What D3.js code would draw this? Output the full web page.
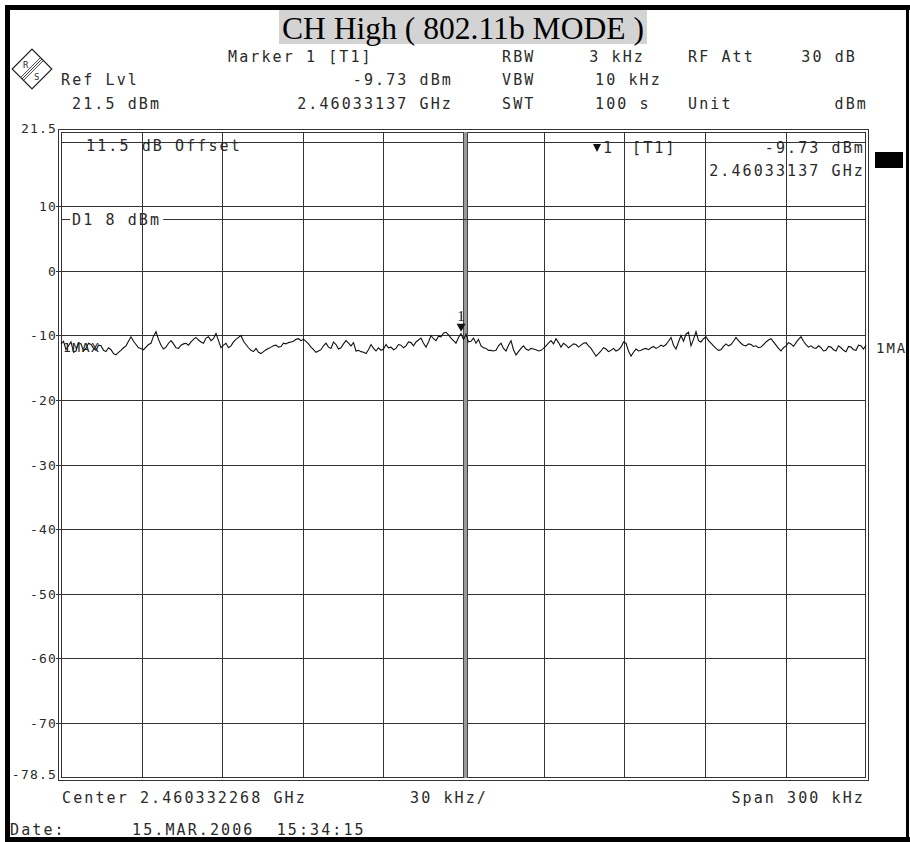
<!DOCTYPE html>
<html><head><meta charset="utf-8">
<script src="https://cdn.jsdelivr.net/npm/d3@7"></script>
<style>body{margin:0;background:#fff}svg{display:block}</style>
</head><body><svg id="c" width="910" height="842"></svg>
<script>
// ---------- data ----------
const chartTitle = "CH High ( 802.11b MODE )";
const yLevelRange = [21.5, -78.5];           // dBm, top / bottom
const yGridLevels = [20, 10, 0, -10, -20, -30, -40, -50, -60, -70];
const yTickLabels = ["10", "0", "-10", "-20", "-30", "-40", "-50", "-60", "-70"];
const yEdgeLabels = ["21.5", "-78.5"];
const spanKHz = [-150, 150];                  // offset from centre
const freqDivisions = [-120, -90, -60, -30, 0, 30, 60, 90, 120];
const displayLineLevel = 8;                   // D1
const markerFreqOffsetKHz = -0.898;           // 2.46033137 GHz vs centre
const markerLevel = -9.73;
// max-hold trace, dBm, equally spaced sweep points across the span
const traceLevels = [
 -11.3,-10.9,-12.2,-11.6,-11.0,-12.6,-12.4,-11.1,-11.3,-12.4,-12.0,-11.2,-11.4,-12.0,-12.3,-11.5,
 -11.6,-12.3,-12.5,-11.9,-12.2,-12.8,-13.0,-12.6,-12.3,-11.9,-11.6,-10.9,-10.2,-10.9,-11.4,-11.9,
 -12.0,-12.2,-11.8,-11.4,-11.2,-10.1,-9.4,-10.6,-11.5,-12.1,-11.8,-11.2,-10.8,-11.3,-11.9,-12.0,
 -11.5,-11.3,-11.2,-11.5,-11.0,-10.6,-10.3,-10.7,-11.0,-11.2,-10.4,-10.2,-10.8,-10.5,-9.7,-10.8,
 -11.9,-11.5,-11.2,-11.9,-11.6,-11.0,-10.6,-10.3,-10.0,-10.9,-11.4,-11.9,-12.3,-12.5,-12.0,-12.6,
 -12.8,-12.5,-12.2,-12.0,-11.8,-11.6,-11.5,-11.8,-11.7,-11.2,-11.3,-11.1,-11.0,-10.9,-10.6,-10.5,
 -10.8,-10.6,-10.9,-11.3,-11.8,-12.2,-12.6,-12.4,-12.2,-11.6,-11.2,-11.8,-12.0,-11.0,-11.4,-12.1,
 -11.9,-11.3,-10.8,-11.2,-11.6,-11.1,-12.4,-12.3,-12.5,-12.6,-12.8,-12.2,-11.4,-12.0,-12.4,-11.9,
 -12.3,-12.1,-11.4,-11.9,-11.8,-12.2,-12.0,-11.4,-11.5,-11.9,-11.6,-11.0,-11.1,-11.6,-11.0,-10.7,
 -10.4,-11.2,-11.8,-11.0,-10.0,-10.5,-10.8,-10.1,-10.2,-9.6,-9.5,-9.9,-10.4,-10.8,-11.2,-10.3,
 -9.73,-10.6,-9.8,-11.0,-10.9,-10.4,-11.2,-10.6,-11.6,-11.9,-12.0,-12.3,-12.3,-12.4,-12.3,-11.6,
 -11.2,-12.0,-12.4,-11.5,-10.8,-12.2,-13.0,-12.5,-12.0,-11.6,-12.1,-12.3,-12.0,-12.1,-12.2,-12.4,
 -12.3,-12.0,-11.6,-11.2,-10.8,-11.3,-10.5,-11.1,-11.8,-11.2,-11.5,-11.9,-11.6,-11.3,-11.4,-11.8,
 -11.5,-11.2,-11.1,-11.6,-12.0,-12.6,-13.2,-12.8,-12.4,-11.9,-12.1,-12.5,-12.3,-12.0,-12.4,-12.2,
 -11.8,-11.0,-11.2,-12.4,-13.2,-12.6,-12.1,-12.4,-12.3,-12.1,-12.0,-12.2,-11.9,-11.7,-12.0,-11.8,
 -11.5,-11.7,-11.4,-10.9,-10.3,-11.5,-12.1,-11.0,-10.0,-10.9,-9.8,-9.5,-11.6,-10.6,-9.4,-10.8,
 -11.0,-10.5,-10.2,-10.8,-11.2,-11.6,-12.0,-12.3,-12.2,-11.7,-11.3,-11.6,-11.4,-10.9,-10.3,-10.8,
 -11.2,-11.5,-11.6,-11.3,-11.4,-11.7,-11.6,-11.9,-11.8,-11.4,-11.0,-10.7,-10.5,-11.0,-11.5,-12.0,
 -12.4,-11.9,-11.6,-11.1,-11.3,-11.7,-11.1,-10.6,-10.2,-10.9,-11.4,-11.8,-11.6,-11.9,-12.0,-11.6,
 -11.9,-12.4,-12.3,-11.7,-11.8,-12.2,-12.4,-11.6,-11.9,-12.3,-12.5,-11.7,-11.8,-12.2,-12.3,-11.5,
 -11.6,-12.1,-11.5
];
const headerRow1 = ["Marker 1 [T1]", "RBW", "3 kHz", "RF Att", "30 dB"];
const headerRow2 = ["Ref Lvl", "-9.73 dBm", "VBW", "10 kHz"];
const headerRow3 = ["21.5 dBm", "2.46033137 GHz", "SWT", "100 s", "Unit", "dBm"];
const markerBox = ["1", "[T1]", "-9.73 dBm", "2.46033137 GHz"];
const offsetNote = "11.5 dB Offset";
const displayLineLabel = "D1 8 dBm";
const traceLabelLeft = "1MAX";
const traceLabelRight = "1MA";
const footerRow1 = ["Center 2.460332268 GHz", "30 kHz/", "Span 300 kHz"];
const footerRow2 = ["Date:", "15.MAR.2006  15:34:15"];

// ---------- layout ----------
const svg = d3.select("#c");
const L = 61, R = 866, T = 132, B = 778;
const y = d3.scaleLinear().domain(yLevelRange).range([T, B]);
const x = d3.scaleLinear().domain(spanKHz).range([L, R]);
const idx = d3.scaleLinear().domain([0, traceLevels.length - 1]).range(spanKHz);
const mono = "'DejaVu Sans Mono', 'Liberation Mono', monospace";
const txtCol = "#2a2a2a";

svg.append("rect").attr("width", 910).attr("height", 842).attr("fill", "#fff");
// outer frame
svg.append("rect").attr("x", 5).attr("y", 5).attr("width", 905).attr("height", 5).attr("fill", "#000");
svg.append("rect").attr("x", 5).attr("y", 5).attr("width", 5).attr("height", 837).attr("fill", "#000");
svg.append("rect").attr("x", 5).attr("y", 837).attr("width", 905).attr("height", 5).attr("fill", "#000");
svg.append("rect").attr("x", 906).attr("y", 5).attr("width", 3).attr("height", 837).attr("fill", "#000");

// title
const tg = svg.append("g");
const tbg = tg.append("rect").attr("fill", "#d3d3d3").attr("y", 10).attr("height", 34);
const tt = tg.append("text").text(chartTitle).attr("x", 463).attr("y", 39)
  .attr("text-anchor", "middle").attr("font-family", "'Liberation Serif','Times New Roman',serif")
  .attr("font-size", 30).attr("fill", "#000");
{
  const w = tt.node().getComputedTextLength();
  tt.attr("font-size", 30 * 362 / w);
  const w2 = tt.node().getComputedTextLength();
  tbg.attr("x", 463 - w2 / 2 - 3).attr("width", w2 + 6);
}

function txt(s, xx, yy, opts = {}) {
  return svg.append("text").text(s).attr("x", xx).attr("y", yy)
    .attr("font-family", mono).attr("font-size", opts.size || 15)
    .attr("letter-spacing", opts.ls != null ? opts.ls : 2.1)
    .attr("text-anchor", opts.anchor || "start")
    .attr("fill", opts.fill || txtCol)
    .style("white-space", "pre");
}

// header
txt(headerRow1[0], 228, 62);
txt(headerRow1[1], 502, 62);
txt(headerRow1[2], 645, 62, {anchor: "end"});
txt(headerRow1[3], 688, 62);
txt(headerRow1[4], 857, 62, {anchor: "end"});
txt(headerRow2[0], 61, 85);
txt(headerRow2[1], 453, 85, {anchor: "end"});
txt(headerRow2[2], 502, 85);
txt(headerRow2[3], 595, 85);
txt(headerRow3[0], 72, 109);
txt(headerRow3[1], 453, 109, {anchor: "end"});
txt(headerRow3[2], 502, 109);
txt(headerRow3[3], 595, 109);
txt(headerRow3[4], 688, 109);
txt(headerRow3[5], 868, 109, {anchor: "end"});

// R&S logo
{
  const g = svg.append("g").attr("transform", "translate(32,69) rotate(45)");
  g.append("rect").attr("x", -14).attr("y", -14).attr("width", 28).attr("height", 28)
    .attr("fill", "#fff").attr("stroke", "#222").attr("stroke-width", 1.2);
  [-2, 0, 2].forEach(o => g.append("line").attr("x1", o).attr("x2", o).attr("y1", -14).attr("y2", 14)
    .attr("stroke", "#333").attr("stroke-width", 0.9));
  const g2 = svg.append("g");
  g2.append("text").text("R").attr("x", 23).attr("y", 68).attr("font-size", 9).attr("font-family", mono).attr("fill", "#333");
  g2.append("text").text("S").attr("x", 34).attr("y", 80).attr("font-size", 9).attr("font-family", mono).attr("fill", "#333");
}

// plot frame (double line)
svg.append("rect").attr("x", L - 2.5).attr("y", T - 2.5).attr("width", R - L + 5).attr("height", B - T + 5)
  .attr("fill", "none").attr("stroke", "#333").attr("stroke-width", 1);
svg.append("rect").attr("x", L + 0.5).attr("y", T + 0.5).attr("width", R - L - 1).attr("height", B - T - 1)
  .attr("fill", "#fff").attr("stroke", "#333").attr("stroke-width", 1);

// horizontal grid
svg.append("g").selectAll("line").data(yGridLevels).join("line")
  .attr("x1", d => d === 20 ? L : 56).attr("x2", R)
  .attr("y1", d => Math.round(y(d)) + 0.5).attr("y2", d => Math.round(y(d)) + 0.5)
  .attr("stroke", "#333").attr("stroke-width", 1);
// vertical grid
svg.append("g").selectAll("line").data(freqDivisions.filter(d => d !== 0)).join("line")
  .attr("x1", d => Math.round(x(d)) + 0.5).attr("x2", d => Math.round(x(d)) + 0.5)
  .attr("y1", T).attr("y2", B).attr("stroke", "#333").attr("stroke-width", 1);
// centre line (double)
{
  const cx = Math.round(x(0));
  svg.append("rect").attr("x", cx - 1).attr("y", T).attr("width", 4).attr("height", B - T).attr("fill", "#999");
  svg.append("line").attr("x1", cx - 0.5).attr("x2", cx - 0.5).attr("y1", T).attr("y2", B).attr("stroke", "#444");
  svg.append("line").attr("x1", cx + 3.5).attr("x2", cx + 3.5).attr("y1", T).attr("y2", B).attr("stroke", "#444");
}

// y labels
svg.append("g").selectAll("text").data(yTickLabels).join("text")
  .text(d => d).attr("x", 57).attr("y", d => y(+d) + 5)
  .attr("text-anchor", "end").attr("font-family", mono).attr("font-size", 13)
  .attr("letter-spacing", 1.2).attr("fill", txtCol);
svg.append("g").selectAll("text").data(yEdgeLabels).join("text")
  .text(d => d).attr("x", 57).attr("y", d => y(+d) + 1)
  .attr("text-anchor", "end").attr("font-family", mono).attr("font-size", 13)
  .attr("letter-spacing", 1.2).attr("fill", txtCol);

// offset note
txt(offsetNote, 86, 151);

// display line D1
{
  const yy = Math.round(y(displayLineLevel)) + 0.5;
  const t = txt(displayLineLabel, 72, yy + 5);
  const w = t.node().getComputedTextLength();
  svg.append("line").attr("x1", L).attr("x2", 70).attr("y1", yy).attr("y2", yy).attr("stroke", "#333");
  svg.append("line").attr("x1", 72 + w + 2).attr("x2", R).attr("y1", yy).attr("y2", yy).attr("stroke", "#333");
}

// marker info box text
{
  svg.append("path").attr("d", "M593,144 L601,144 L597,152 Z").attr("fill", "#111");
  txt(markerBox[0], 603, 153);
  txt(markerBox[1], 632, 153);
  txt(markerBox[2], 865, 153, {anchor: "end"});
  txt(markerBox[3], 865, 176, {anchor: "end"});
  svg.append("rect").attr("x", 875).attr("y", 152).attr("width", 28).attr("height", 16).attr("fill", "#000");
}

// trace
const line = d3.line().x((d, i) => x(idx(i))).y(d => y(d)).curve(d3.curveLinear);
svg.append("path").datum(traceLevels).attr("d", line)
  .attr("fill", "none").attr("stroke", "#111").attr("stroke-width", 1.1);

// trace labels
txt(traceLabelLeft, 63, 352, {size: 13, ls: 1.5, fill: "#222"});
txt(traceLabelRight, 876, 353, {size: 14, ls: 2});

// marker
{
  const mx = x(markerFreqOffsetKHz), my = y(markerLevel);
  svg.append("path").attr("d", `M${mx - 4.5},${my - 10} L${mx + 4.5},${my - 10} L${mx},${my - 2} Z`).attr("fill", "#111");
  svg.append("text").text("1").attr("x", mx).attr("y", my - 13).attr("text-anchor", "middle")
    .attr("font-family", "'Liberation Serif',serif").attr("font-size", 15).attr("fill", "#111");
}

// footer
txt(footerRow1[0], 62, 803);
txt(footerRow1[1], 410, 803);
txt(footerRow1[2], 865, 803, {anchor: "end"});
txt(footerRow2[0], 10, 835);
txt(footerRow2[1], 132, 835);
</script>
</body></html>
